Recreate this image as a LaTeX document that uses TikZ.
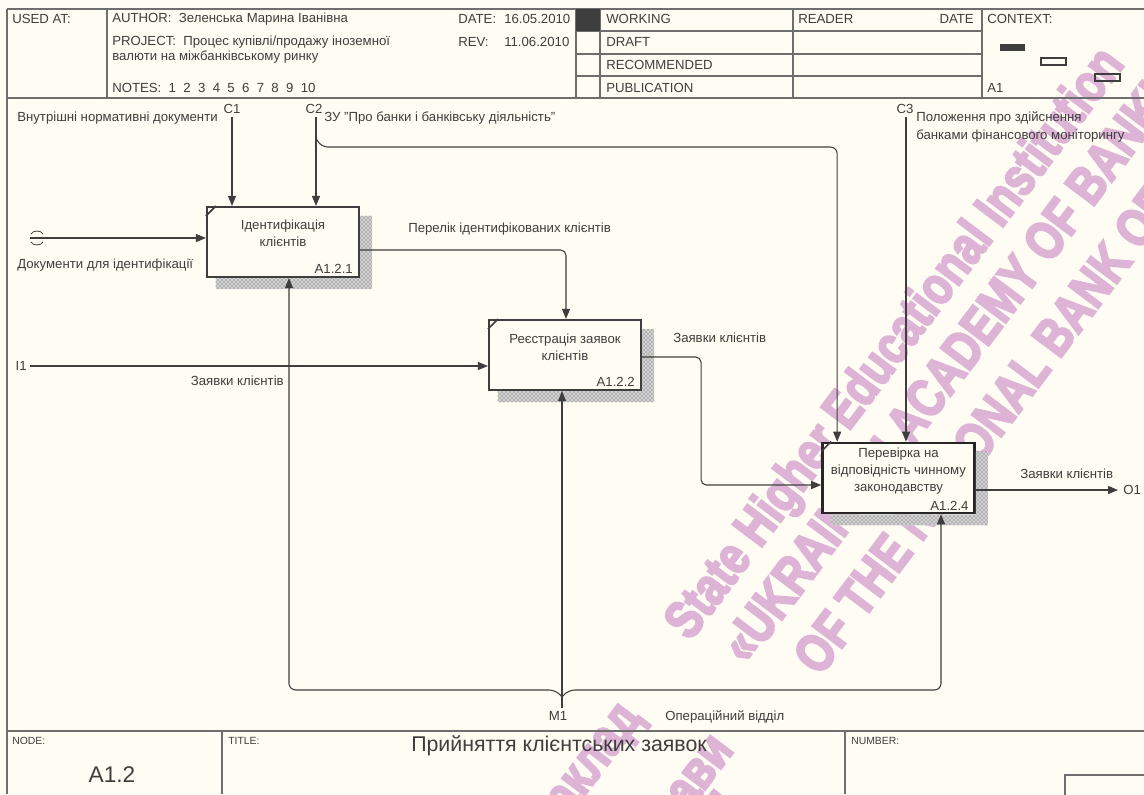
\documentclass[tikz,border=0pt]{standalone}
\usepackage{fontspec}
\setmainfont[Ligatures=ResetAll]{Liberation Sans}
\newfontfamily\wmfont[BoldFeatures={FakeBold=4.5}]{Liberation Sans}
\usepackage{xcolor}
\definecolor{paper}{RGB}{255,252,243}
\definecolor{ink}{RGB}{62,62,62}
\definecolor{rule}{RGB}{110,110,110}
\definecolor{wmpink}{RGB}{221,180,214}
\usetikzlibrary{arrows.meta}
\usetikzlibrary{calc}
\usetikzlibrary{positioning}
\usetikzlibrary{patterns}

\begin{document}
\begin{tikzpicture}[x=0.75pt, y=-0.75pt,
    every node/.style={inner sep=0pt, text=ink, font=\fontsize{9.9}{12.8}\selectfont},
    frm/.style={draw=rule, line width=1pt},
    small/.style={font=\fontsize{7.8}{9}\selectfont},
    fbox/.style={draw=ink, line width=1.6pt, fill=paper, minimum width=114pt, minimum height=52.5pt},
    hatch/.style={pattern=crosshatch dots, pattern color=black!70},
    conn/.style={draw=ink, line width=0.8pt, rounded corners=4pt, -{Triangle[length=7.5pt,width=6pt]}},
    wm/.style={text=wmpink, font=\wmfont\bfseries\fontsize{32}{32}\selectfont},
    wmline/.style={rotate=53, yscale=1.25, transform shape}]

      \newcommand\shadowof[1]{%
        \fill [gray!35] ($(#1.north east)+(0,10)$) -- ($(#1.north east)+(12,10)$)
          -- ($(#1.south east)+(12,11)$) -- ($(#1.south west)+(10,11)$)
          -- ($(#1.south west)+(10,0)$) -- (#1.south east) -- cycle;
        \fill [hatch] ($(#1.north east)+(0,10)$) -- ($(#1.north east)+(12,10)$)
          -- ($(#1.south east)+(12,11)$) -- ($(#1.south west)+(10,11)$)
          -- ($(#1.south west)+(10,0)$) -- (#1.south east) -- cycle;
        \draw [ink, line width=1.2pt] ($(#1.north west)+(0,10)$) -- ($(#1.north west)+(10,0)$);}

      \useasboundingbox (0,0) rectangle (1144,794);
      \fill [paper] (0,0) rectangle (1144,794);
      \clip (0,0) rectangle (1144,794);

      % watermark
      \begin{scope}[shift={(690,642)}, wmline]
        \node [wm, anchor=base west] (wm1) at (0,0) {State Higher Educational Institution};
        \node [wm, anchor=base west] (wm2) at (15,48) {«UKRAINIAN ACADEMY OF BANKING};
        \node [wm, anchor=base west] (wm3) at (50,100) {OF THE NATIONAL BANK OF UKRAINE»};
      \end{scope}
      \begin{scope}[shift={(643,718)}, wmline]
        \node [wm, anchor=base east] (wm4) at (0,0) {Державний вищий навчальний заклад};
      \end{scope}
      \begin{scope}[shift={(735,750)}, wmline]
        \node [wm, anchor=base east] (wm5) at (0,0) {«Українська академія банківської справи};
      \end{scope}
      \begin{scope}[shift={(722,792)}, wmline]
        \node [wm, anchor=base east] (wm6) at (0,0) {Національного банку України»,};
      \end{scope}

      % header frame
      \draw [frm] (7,9) -- (1144,9);
      \draw [frm] (7,98) -- (1144,98);
      \draw [frm] (7,9) -- (7,794);
      \foreach \xx in {107,576,600,793,982}
        \draw [frm] (\xx,9) -- (\xx,98);
      \foreach \yy in {31,54,76}
        \draw [frm] (576,\yy) -- (982,\yy);
      \fill [ink] (576,9) rectangle (600,31);
      \fill [ink] (1000,44) rectangle (1025,51);
      \draw [ink, line width=0.8pt] (1041,58) rectangle (1066,65);
      \draw [ink, line width=0.8pt] (1095,74) rectangle (1120,81);

      \node [anchor=west] (usedat) at (12,19) {USED AT:};
      \node [anchor=west] (author) at (112,19) {AUTHOR:\ \ Зеленська Марина Іванівна};
      \node [anchor=west] (project) at (112,42) {PROJECT:\ \ Процес купівлі/продажу іноземної};
      \node [anchor=west] (project2) at (112,57) {валюти на міжбанківському ринку};
      \node [anchor=west] (notes) at (112,88) {NOTES:\ \ 1\ \ 2\ \ 3\ \ 4\ \ 5\ \ 6\ \ 7\ \ 8\ \ 9\ \ 10};
      \node [anchor=west] (date) at (458,19) {DATE:};
      \node [anchor=west] (dateval) at (504,19) {16.05.2010};
      \node [anchor=west] (rev) at (458,42) {REV:};
      \node [anchor=west] (revval) at (504,42) {11.06.2010};
      \node [anchor=west] (working) at (606,19) {WORKING};
      \node [anchor=west] (draft) at (606,42) {DRAFT};
      \node [anchor=west] (recom) at (606,65) {RECOMMENDED};
      \node [anchor=west] (publ) at (606,88) {PUBLICATION};
      \node [anchor=west] (reader) at (798,19) {READER};
      \node [anchor=east] (rdate) at (974,19) {DATE};
      \node [anchor=west] (context) at (987,19) {CONTEXT:};
      \node [anchor=west] (ctxa) at (987,88) {A1};

      % footer frame
      \draw [frm] (7,731) -- (1144,731);
      \draw [frm] (222,731) -- (222,794);
      \draw [frm] (845,731) -- (845,794);
      \draw [frm] (1065,775) rectangle (1150,800);
      \node [small, anchor=west] (nodelab) at (12,741) {NODE:};
      \node [small, anchor=west] (titlelab) at (228,741) {TITLE:};
      \node [small, anchor=west] (numlab) at (851,741) {NUMBER:};
      \node [font=\fontsize{17}{17}\selectfont] (nodeno) at (112,775) {A1.2};
      \node [font=\fontsize{16}{16}\selectfont] (title) at (559,746) {Прийняття клієнтських заявок};

      % activity boxes
      \node [fbox] (b1) at (283,242) {};
      \node [fbox] (b2) at (565,355) {};
      \node [fbox, line width=2pt, draw=black!85] (b3) at (898.5,478) {};
      \shadowof{b1}
      \shadowof{b2}
      \shadowof{b3}
      \node [align=center, anchor=north] (t1) at ($(b1.north)+(0,14)$) {Ідентифікація\\клієнтів};
      \node [align=center, anchor=north] (t2) at ($(b2.north)+(0,15)$) {Реєстрація заявок\\клієнтів};
      \node [align=center, anchor=north] (t3) at ($(b3.north)+(0,6)$) {Перевірка на\\відповідність чинному\\законодавству};
      \node [anchor=south east] (n1) at ($(b1.south east)+(-7,-4)$) {A1.2.1};
      \node [anchor=south east] (n2) at ($(b2.south east)+(-7,-4)$) {A1.2.2};
      \node [anchor=south east] (n3) at ($(b3.south east)+(-7,-4)$) {A1.2.4};

      % boundary ends
      \coordinate (c1) at (232,117);
      \coordinate (c2) at (316,117);
      \coordinate (c3) at (906,117);
      \coordinate (i0) at (30,238);
      \coordinate (i1) at (30,366);
      \coordinate (o1) at (1118,490);
      \coordinate (m1) at (562,708);

      % controls
      \draw [conn] (c1) -- (c1 |- b1.north);
      \draw [conn] (c2) -- (c2 |- b1.north);
      \draw [conn, rounded corners=5pt] ($(c2)+(0,21)$) -- ($(c2)+(5,30)$) -| ($(b3.north west)+(16,0)$);
      \draw [conn] (c3) -- (c3 |- b3.north);
      \node [anchor=south] (c1lab) at ($(c1)+(0,-3)$) {C1};
      \node [anchor=south] (c2lab) at ($(c2)+(-2,-3)$) {C2};
      \node [anchor=south] (c3lab) at ($(c3)+(-1,-3)$) {C3};
      \node [anchor=west] (c1txt) at (17,118) {Внутрішні нормативні документи};
      \node [anchor=west] (c2txt) at (324,118) {ЗУ "Про банки і банківську діяльність"};
      \node [anchor=north west, align=left, font=\fontsize{9.9}{13.5}\selectfont] (c3txt) at (916,111) {Положення про здійснення\\банками фінансового моніторингу};

      % inputs
      \draw [conn] (i0) -- (i0 -| b1.west);
      \draw [ink, line width=0.6pt] (31,234) .. controls (33,230) and (41,230) .. (43,234);
      \draw [ink, line width=0.6pt] (31,242) .. controls (33,246) and (41,246) .. (43,242);
      \node [anchor=west] (i0txt) at (17,265) {Документи для ідентифікації};
      \draw [conn] (i1) -- (i1 -| b2.west);
      \node [anchor=east] (i1lab) at ($(i1)+(-3,0)$) {I1};
      \node [anchor=east] (i1txt) at (284,381) {Заявки клієнтів};

      % outputs
      \draw [conn] ($(b1.east)+(0,8)$) -| ($(b2.north)+(1,0)$);
      \node [anchor=west] (o12txt) at (408,229) {Перелік ідентифікованих клієнтів};
      \draw [conn] ($(b2.east)+(0,2)$) -- ++(59,0) |- ($(b3.west)+(0,7)$);
      \node [anchor=west] (o23txt) at (673,338) {Заявки клієнтів};
      \draw [conn] ($(b3.east)+(0,12)$) -- (o1);
      \node [anchor=west] (o1lab) at ($(o1)+(5,0)$) {O1};
      \node [anchor=west] (o1txt) at (1020,474) {Заявки клієнтів};

      % mechanism
      \draw [conn] (m1) -- (m1 |- b2.south);
      \draw [conn, rounded corners=5pt] ($(m1)+(0,-11)$) -- ($(m1)+(-6,-18)$) -| ($(b1.south)+(6,0)$);
      \draw [conn, rounded corners=5pt] ($(m1)+(0,-11)$) -- ($(m1)+(6,-18)$) -| ($(b3.south)+(42.5,0)$);
      \node [anchor=north] (m1lab) at ($(m1)+(-4,3)$) {M1};
      \node [anchor=west] (m1txt) at (665,717) {Операційний відділ};

    \end{tikzpicture}
\end{document}
